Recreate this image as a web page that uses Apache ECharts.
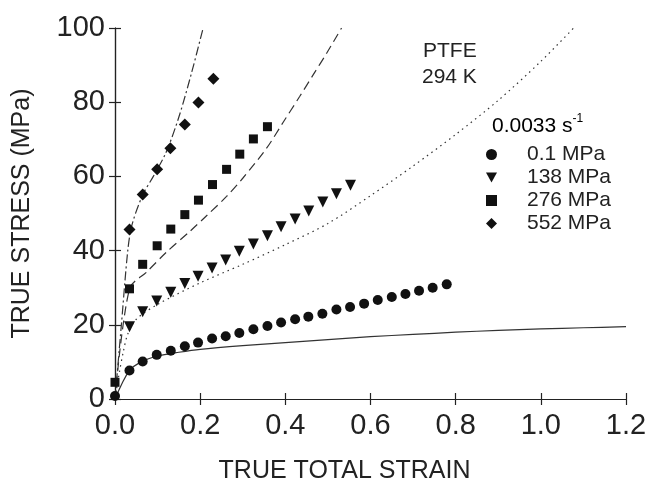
<!DOCTYPE html>
<html>
<head>
<meta charset="utf-8">
<script src="https://cdn.jsdelivr.net/npm/echarts@6/dist/echarts.min.js"></script>
<style>html,body{margin:0;padding:0;background:#fff;}#c{width:651px;height:489px;}</style>
</head>
<body>
<div id="c"></div>
<script>
// ---- data (strain, MPa) ----
var xTicks = ['0.0','0.2','0.4','0.6','0.8','1.0','1.2'];
var yTicks = ['0','20','40','60','80','100'];

var circleX = [0,0.034,0.065,0.098,0.131,0.164,0.195,0.228,0.26,0.292,0.325,0.358,0.39,0.423,0.454,0.487,0.52,0.552,0.585,0.617,0.65,0.682,0.714,0.746,0.779];
var circleY = [0.8,7.7,10.1,11.9,13.0,14.2,15.2,16.3,16.9,17.8,18.8,19.7,20.6,21.5,22.2,23.0,24.1,24.8,25.7,26.7,27.5,28.3,29.2,30.0,30.9];

var triX = [0.034,0.065,0.098,0.131,0.164,0.195,0.228,0.26,0.292,0.325,0.358,0.39,0.423,0.455,0.488,0.52,0.553];
var triY = [19.5,23.5,26.4,28.8,31.1,33.1,35.3,37.5,39.8,41.8,44.0,46.4,48.5,50.7,53.1,55.3,57.6];

var sqX = [0,0.034,0.065,0.099,0.131,0.164,0.196,0.229,0.262,0.293,0.325,0.358];
var sqY = [4.5,29.7,36.3,41.3,45.8,49.7,53.6,57.8,61.9,66.0,70.1,73.4];

var diaX = [0.034,0.065,0.099,0.13,0.164,0.196,0.231];
var diaY = [45.7,55.1,61.9,67.6,74.0,79.9,86.3];

// model curves
var solidX = [0,0.034,0.065,0.1,0.15,0.2,0.3,0.4,0.5,0.6,0.7,0.8,0.9,1.0,1.1,1.2];
var solidY = [0,7.7,10.2,11.6,12.6,13.4,14.4,15.2,16.0,16.8,17.4,18.0,18.5,18.9,19.2,19.5];

var dotX = [0,0.01,0.02,0.03,0.05,0.1,0.2,0.3,0.4,0.5,0.6,0.7,0.8,0.9,1.0,1.077];
var dotY = [0,7,13,17.5,21.5,25.5,31.3,36.3,41.6,47.3,54.8,62.8,71.3,80.5,91,100];

var dashX = [0,0.034,0.075,0.121,0.176,0.215,0.262,0.3,0.356,0.395,0.434,0.466,0.497,0.532];
var dashY = [0,29.7,34.3,39.6,45.2,49.4,54.6,59.5,67.6,74.6,81.6,87.5,93.2,100];

var ddX = [0,0.015,0.03,0.04,0.065,0.09,0.12,0.15,0.18,0.207];
var ddY = [0,20,40,47,55,60,66.5,76,88,100];

var names = ['0.1 MPa','138 MPa','276 MPa','552 MPa'];

function zip(a,b){return a.map(function(v,i){return [v,b[i]];});}

var FONT = 'Liberation Sans';
var chart = echarts.init(document.getElementById('c'), null, {renderer:'canvas'});

var axisCommon = {
  min:0, axisLine:{show:true,lineStyle:{color:'#222',width:1.2}},
  axisTick:{show:true,inside:true,length:6,lineStyle:{color:'#222',width:1.2}},
  splitLine:{show:false}
};

function lineSeries(x,y,dash){
  return {type:'line',data:zip(x,y),showSymbol:false,symbol:'none',smooth:0.3,
    lineStyle:{color:'#333',width:1.2,type:dash},z:2,silent:true};
}
function markSeries(name,x,y,sym,size,rot){
  return {type:'scatter',name:name,data:zip(x,y),symbol:sym,symbolSize:size,symbolRotate:rot||0,
    itemStyle:{color:'#111',opacity:1},z:5};
}

chart.setOption({
  animation:false,
  backgroundColor:'#fff',
  grid:{left:115,right:25,top:28,bottom:87},
  xAxis:[
    Object.assign({},axisCommon,{type:'value',max:1.2,interval:0.2,position:'bottom',
      axisLabel:{fontFamily:FONT,fontSize:29,color:'#222',margin:12,
        formatter:function(v){return xTicks[Math.round(v/0.2)];}},
      name:'TRUE TOTAL STRAIN',nameLocation:'middle',nameGap:60,
      nameTextStyle:{fontFamily:FONT,fontSize:25,color:'#222',padding:[0,52,0,0]}}),
    Object.assign({},axisCommon,{type:'value',max:1.2,interval:0.2,position:'top',axisLabel:{show:false}})
  ],
  yAxis:[
    Object.assign({},axisCommon,{type:'value',max:100,interval:20,position:'left',
      axisLabel:{fontFamily:FONT,fontSize:29,color:'#222',margin:10,
        formatter:function(v){return yTicks[Math.round(v/20)];}},
      name:'TRUE STRESS (MPa)',nameLocation:'middle',nameGap:80,
      nameTextStyle:{fontFamily:FONT,fontSize:25,color:'#222'}}),
    Object.assign({},axisCommon,{type:'value',max:100,interval:20,position:'right',axisLabel:{show:false}})
  ],
  legend:{
    orient:'vertical',left:481,top:139,itemGap:2,itemWidth:11,itemHeight:11,
    data:[
      {name:names[0],icon:'circle'},
      {name:names[1],icon:'path://M0,0L10,0L5,9Z'},
      {name:names[2],icon:'rect'},
      {name:names[3],icon:'diamond'}
    ],
    textStyle:{fontFamily:FONT,fontSize:21,color:'#222',padding:[0,0,0,25]},
    inactiveColor:'#111',selectedMode:false
  },
  graphic:[
    {type:'text',left:423,top:41,style:{text:'PTFE',font:'21px "Liberation Sans"',fill:'#222'}},
    {type:'text',left:422,top:67,style:{text:'294 K',font:'21px "Liberation Sans"',fill:'#222'}},
    {type:'text',left:492,top:113,style:{
      text:'{a|0.0033 s}{b|-1}',
      rich:{a:{fontFamily:FONT,fontSize:21,color:'#222'},
            b:{fontFamily:FONT,fontSize:12,color:'#222',verticalAlign:'top',padding:[0,0,14,0]}}}}
  ],
  series:[
    lineSeries(solidX,solidY,'solid'),
    lineSeries(dotX,dotY,[1.5,4]),
    lineSeries(dashX,dashY,[9,5]),
    lineSeries(ddX,ddY,[9,3,2,3]),
    markSeries(names[0],circleX,circleY,'circle',10),
    markSeries(names[1],triX,triY,'triangle',11,180),
    markSeries(names[2],sqX,sqY,'rect',9),
    markSeries(names[3],diaX,diaY,'diamond',12)
  ]
});
</script>
</body>
</html>
